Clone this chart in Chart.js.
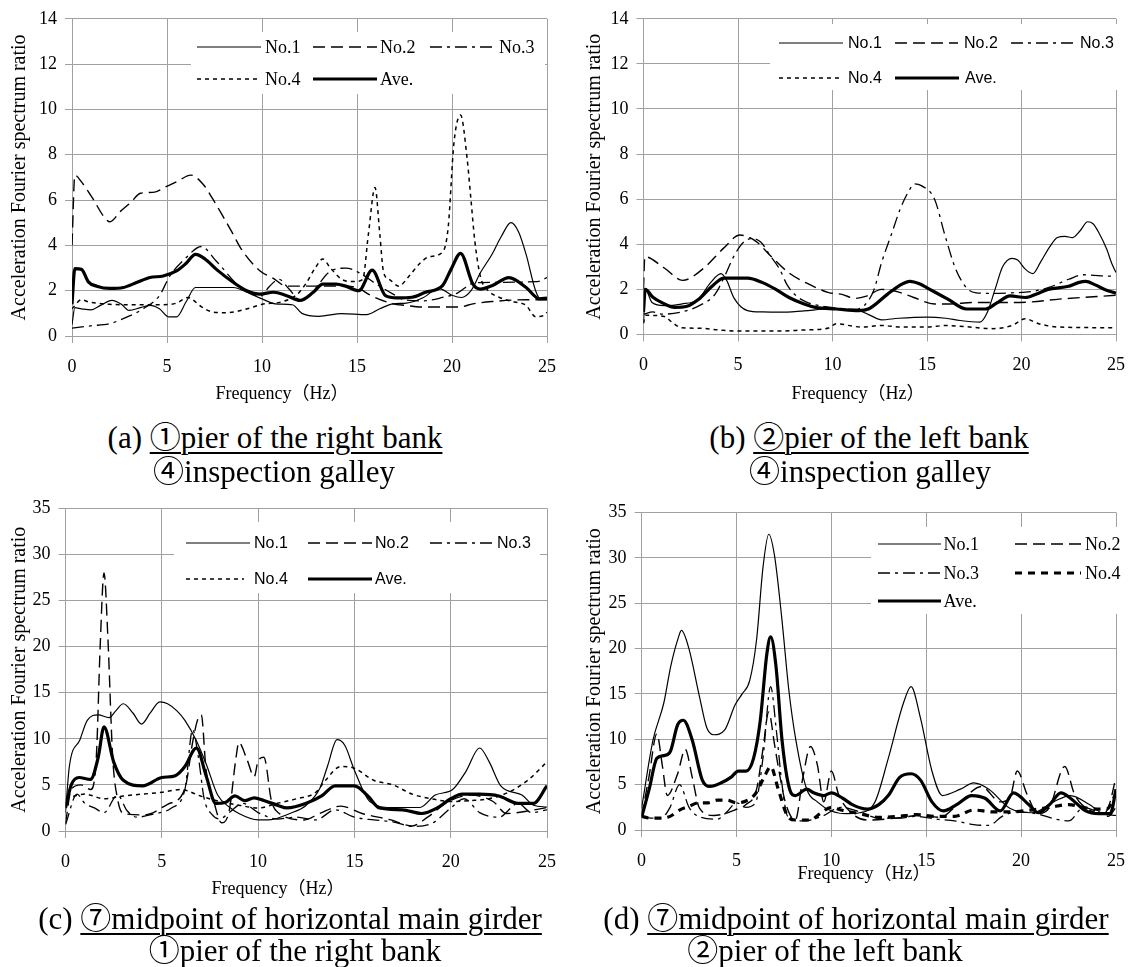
<!DOCTYPE html>
<html>
<head>
<meta charset="utf-8">
<script src="https://cdn.jsdelivr.net/npm/chart.js@4.4.1/dist/chart.umd.min.js"></script>
<style>
  html, body { margin: 0; padding: 0; background: #fff; }
  body { position: relative; width: 1138px; height: 967px; overflow: hidden; }
  .panel { position: absolute; }
  .xt { position: absolute; font-family: 'Liberation Serif', 'Noto Sans CJK JP', serif; font-size: 18px;
        line-height: 20px; white-space: nowrap; transform: translateX(-50%); color: #000; }
  .cap { position: absolute; font-family: 'Liberation Serif', 'Noto Sans CJK JP', serif; font-size: 31px;
         line-height: 33px; white-space: nowrap; transform: translateX(-50%); color: #000; }
  .cap u { text-decoration-thickness: 1.5px; text-underline-offset: 4px; }
</style>
</head>
<body>
<div class="panel" style="left:0;top:0"><canvas id="cA" width="569" height="410"></canvas></div>
<div class="panel" style="left:575px;top:0"><canvas id="cB" width="563" height="410"></canvas></div>
<div class="panel" style="left:0;top:480px"><canvas id="cC" width="569" height="425"></canvas></div>
<div class="panel" style="left:575px;top:480px"><canvas id="cD" width="563" height="425"></canvas></div>

<div class="xt" style="left:282px;top:383px">Frequency（Hz）</div>
<div class="xt" style="left:858px;top:383px">Frequency（Hz）</div>
<div class="xt" style="left:278px;top:878px">Frequency（Hz）</div>
<div class="xt" style="left:864px;top:863px">Frequency（Hz）</div>

<div class="cap" style="left:275px;top:421px">(a) <u>①pier of the right bank</u></div>
<div class="cap" style="left:274px;top:455px">④inspection galley</div>
<div class="cap" style="left:869px;top:421px">(b) <u>②pier of the left bank</u></div>
<div class="cap" style="left:870px;top:455px">④inspection galley</div>
<div class="cap" style="left:290px;top:902px">(c) <u>⑦midpoint of horizontal main girder</u></div>
<div class="cap" style="left:295px;top:934px">①pier of the right bank</div>
<div class="cap" style="left:856px;top:902px">(d) <u>⑦midpoint of horizontal main girder</u></div>
<div class="cap" style="left:825px;top:934px">②pier of the left bank</div>

<script>
// Series labels and axis ticks
const seriesLabels = ['No.1', 'No.2', 'No.3', 'No.4', 'Ave.'];
const freqTicks = [0, 5, 10, 15, 20, 25];

// (a) pier of the right bank / inspection galley : [frequency Hz, ratio]
const aNo1 = [[0,0.5],[0.15,1.25],[0.5,1.2],[1.0,1.15],[1.5,1.35],[2.1,1.57],[2.6,1.4],[3.0,1.13],[3.6,1.25],[4.1,1.35],[4.6,1.2],[5.1,0.84],[5.5,0.84],[6.0,1.5],[6.5,2.14],[7.5,2.14],[8.5,2.14],[9.2,1.93],[10.0,1.64],[10.7,1.42],[11.6,1.38],[12.1,1.0],[13.0,0.87],[14.2,0.99],[15.5,0.94],[16.2,1.2],[16.9,1.42],[17.6,1.45],[18.5,1.7],[19.3,2.1],[20.0,1.8],[20.5,1.7],[21.0,2.0],[21.5,2.8],[22.1,3.6],[22.6,4.4],[23.1,5.0],[23.5,4.6],[23.9,3.6],[24.4,2.0],[24.7,1.6],[25,1.6]];
const aNo2 = [[0,4.0],[0.15,7.1],[0.5,6.8],[1.1,6.06],[1.65,5.3],[2.0,5.04],[2.55,5.5],[3.1,5.9],[3.6,6.3],[4.35,6.35],[4.9,6.57],[5.6,6.85],[6.25,7.1],[6.9,6.7],[7.4,6.06],[8.0,5.2],[8.5,4.46],[8.9,3.85],[9.9,2.87],[10.55,2.57],[11.3,2.2],[12.3,2.2],[13.5,2.2],[14.5,2.2],[15.1,2.1],[15.7,1.8],[16.9,1.42],[17.6,1.35],[18.3,1.28],[20.4,1.28],[21.1,1.42],[22.1,1.52],[23.9,1.6],[25,1.6]];
const aNo3 = [[0,0.35],[1.0,0.45],[2.0,0.55],[2.9,0.84],[3.75,1.2],[4.6,1.78],[5.15,2.65],[6.0,3.45],[6.8,3.95],[7.6,3.3],[8.8,2.2],[9.9,1.75],[10.4,2.2],[10.9,2.5],[11.4,2.1],[12.0,1.6],[12.5,1.75],[13.0,2.3],[13.5,2.8],[14.4,3.0],[15.1,2.8],[16.0,2.3],[16.9,1.85],[17.5,1.6],[18.5,1.55],[19.5,1.7],[20.3,1.9],[21.0,2.3],[21.5,2.36],[24.5,2.4],[25,2.58]];
const aNo4 = [[0,1.2],[0.5,1.6],[0.9,1.5],[2.0,1.4],[3.0,1.38],[4.6,1.38],[5.5,1.45],[6.1,1.7],[6.8,1.3],[7.4,1.06],[8.1,1.03],[9.35,1.23],[10.0,1.4],[11.0,1.5],[11.8,1.8],[12.3,2.3],[12.8,3.0],[13.2,3.4],[13.6,3.0],[14.2,2.5],[14.8,2.4],[15.3,2.5],[15.6,4.5],[15.95,6.55],[16.2,4.5],[16.4,2.8],[16.7,2.5],[17.2,2.2],[17.7,2.6],[18.3,3.2],[18.8,3.5],[19.5,3.7],[19.8,4.8],[20.1,8.5],[20.45,9.75],[20.8,7.8],[21.0,6.0],[21.2,4.2],[21.5,2.6],[21.8,2.1],[22.5,1.7],[23.3,1.5],[23.9,1.35],[24.4,0.85],[24.8,0.9],[25,1.05]];
const aAve = [[0,1.4],[0.15,2.97],[0.5,2.94],[0.86,2.39],[1.3,2.2],[2.0,2.1],[2.7,2.14],[3.4,2.36],[4.1,2.58],[4.8,2.65],[5.5,2.87],[6.0,3.2],[6.5,3.6],[7.0,3.4],[7.6,2.94],[8.5,2.36],[9.2,2.0],[9.9,1.85],[10.6,1.93],[11.3,1.78],[12.0,1.57],[12.7,1.93],[13.2,2.29],[13.9,2.29],[14.4,2.2],[15.1,2.0],[15.8,2.91],[16.5,1.78],[17.1,1.68],[17.9,1.71],[18.6,1.93],[19.5,2.22],[19.95,2.94],[20.45,3.65],[21.1,2.29],[21.5,2.07],[22.1,2.22],[23.0,2.58],[23.9,2.14],[24.6,1.64],[25,1.67]];

// (b) pier of the left bank / inspection galley
const bNo1 = [[0,0.5],[0.1,2.0],[0.45,1.42],[1.1,1.28],[2.0,1.35],[2.9,1.57],[3.55,2.3],[4.1,2.7],[4.4,2.4],[4.8,1.6],[5.5,1.06],[6.3,1.0],[7.2,0.99],[8.5,1.05],[9.8,1.13],[10.5,1.1],[11.4,1.06],[12.0,0.85],[12.6,0.65],[13.5,0.72],[15.0,0.77],[16.0,0.72],[16.75,0.62],[17.8,0.55],[18.2,1.0],[18.6,2.0],[19.0,3.0],[19.5,3.38],[19.8,3.3],[20.2,2.9],[20.6,2.7],[21.0,3.2],[21.5,3.9],[21.9,4.3],[22.3,4.35],[22.7,4.3],[23.1,4.6],[23.5,5.0],[23.8,4.9],[24.1,4.5],[24.5,3.8],[24.8,3.1],[25,2.75]];
const bNo2 = [[0,2.0],[0.07,3.45],[1.1,2.95],[2.07,2.4],[3.2,2.95],[4.24,3.83],[5.1,4.41],[5.97,4.12],[6.66,3.54],[7.7,2.73],[8.75,2.23],[9.8,1.86],[10.5,1.78],[11.2,1.6],[11.8,1.7],[12.6,2.0],[13.3,1.93],[14.3,1.64],[15.4,1.35],[16.2,1.35],[17.4,1.42],[19.9,1.42],[22.0,1.57],[25,1.74]];
const bNo3 = [[0,0.9],[0.5,1.0],[1.0,0.9],[2.0,1.0],[3.0,1.3],[3.8,1.8],[4.3,2.6],[4.8,3.5],[5.3,4.1],[5.7,4.25],[6.2,4.1],[6.7,3.5],[7.2,2.9],[7.6,2.2],[8.1,1.7],[8.6,1.45],[9.5,1.25],[10.5,1.15],[11.2,1.12],[11.7,1.3],[12.2,2.0],[12.6,3.2],[13.1,4.4],[13.6,5.6],[14.0,6.3],[14.35,6.68],[14.7,6.6],[15.4,6.0],[15.95,4.4],[16.5,2.94],[17.1,2.06],[17.6,1.85],[18.5,1.82],[19.5,1.85],[20.5,1.9],[21.5,2.1],[22.5,2.45],[23.3,2.65],[24.2,2.6],[25,2.58]];
const bNo4 = [[0,0.5],[0.1,0.85],[1.1,0.8],[1.5,0.55],[2.0,0.3],[3.0,0.28],[4.0,0.2],[5.0,0.15],[7.0,0.15],[8.5,0.2],[9.8,0.29],[10.2,0.48],[11.0,0.38],[11.5,0.33],[12.6,0.4],[13.6,0.33],[15.0,0.33],[16.0,0.4],[17.0,0.35],[18.5,0.26],[19.5,0.4],[20.2,0.7],[20.9,0.48],[22.0,0.33],[25,0.3]];
const bAve = [[0,1.0],[0.09,2.0],[0.5,1.65],[1.0,1.4],[1.65,1.2],[2.3,1.25],[2.9,1.55],[3.7,2.2],[4.25,2.5],[5.5,2.5],[6.3,2.3],[7.0,2.0],[7.7,1.64],[8.5,1.35],[9.1,1.2],[10.2,1.13],[11.4,1.06],[11.9,1.13],[12.9,1.78],[13.5,2.15],[14.1,2.36],[14.6,2.25],[15.0,2.07],[16.1,1.57],[17.1,1.13],[18.1,1.13],[18.7,1.4],[19.4,1.71],[20.2,1.64],[20.8,1.8],[21.4,2.0],[22.5,2.14],[23.0,2.3],[23.4,2.36],[23.9,2.2],[24.4,2.0],[25,1.83]];

// (c) midpoint of horizontal main girder / pier of the right bank
const cNo1 = [[0,2.0],[0.2,7.0],[0.75,9.9],[1.13,12.0],[1.7,12.6],[2.26,12.3],[2.6,13.0],[3.0,13.8],[3.5,12.8],[3.95,11.6],[4.4,12.8],[4.9,14.0],[5.3,13.8],[5.8,13.0],[6.2,12.0],[6.77,9.9],[7.3,7.3],[7.9,3.9],[8.5,2.6],[9.0,1.9],[10.0,1.2],[10.5,1.2],[11.65,1.9],[12.5,2.8],[13.2,4.6],[13.6,7.0],[14.1,9.9],[14.5,9.3],[15.0,6.6],[15.8,3.2],[16.9,2.55],[18.4,2.55],[19.2,3.9],[20.1,4.5],[20.8,6.5],[21.5,9.0],[22.0,7.5],[22.6,4.9],[23.7,3.9],[24.3,2.8],[25,2.6]];
const cNo2 = [[0,0.8],[0.3,4.5],[0.8,5.0],[1.3,4.5],[1.6,8.0],[1.8,20.0],[2.0,28.0],[2.2,21.0],[2.45,8.0],[2.7,3.5],[3.0,1.9],[4.1,1.75],[5.3,2.9],[6.2,4.6],[6.6,9.6],[6.85,12.0],[7.05,12.6],[7.3,6.6],[7.7,3.2],[8.1,0.9],[8.5,2.2],[8.85,7.9],[9.0,9.6],[9.4,7.9],[9.8,5.9],[10.0,7.6],[10.3,8.0],[10.7,3.2],[11.1,1.9],[12.4,1.2],[13.2,1.9],[14.3,2.7],[15.4,1.9],[16.9,1.2],[18.0,0.55],[18.8,1.5],[19.9,3.2],[21.05,3.9],[22.2,3.2],[22.9,1.9],[24.1,2.2],[25,2.55]];
const cNo3 = [[0,0.7],[0.6,4.0],[1.0,3.0],[1.5,2.5],[2.0,2.0],[2.7,3.9],[3.2,2.2],[3.7,1.5],[4.5,1.8],[5.5,2.5],[6.2,4.5],[6.6,11.0],[6.9,8.0],[7.2,3.5],[7.6,1.8],[8.0,1.3],[8.5,2.0],[9.2,3.0],[10.0,2.0],[11.0,1.3],[12.0,1.5],[13.0,1.2],[14.0,2.3],[15.0,1.5],[16.0,1.2],[17.0,1.0],[18.0,0.5],[19.0,0.8],[20.0,2.5],[20.7,3.5],[21.5,2.0],[22.5,1.5],[23.5,3.0],[24.2,2.0],[25,2.3]];
const cNo4 = [[0,3.5],[1.0,4.0],[2.0,3.5],[3.0,3.8],[4.0,4.0],[5.0,4.2],[6.0,4.5],[7.0,3.8],[8.0,3.2],[9.0,2.8],[10.0,2.5],[11.0,3.0],[12.0,3.5],[13.0,4.2],[13.5,5.5],[14.3,7.0],[15.0,6.8],[16.0,5.5],[17.0,5.0],[18.0,4.0],[19.0,3.5],[20.0,3.2],[21.0,3.3],[22.0,3.5],[23.0,4.2],[24.0,5.5],[25,7.5]];
const cAve = [[0,2.5],[0.3,5.0],[0.7,5.8],[1.3,5.6],[1.7,8.0],[2.0,11.3],[2.5,7.5],[3.0,5.5],[4.0,4.9],[5.0,5.8],[5.7,6.0],[6.2,7.0],[6.8,9.0],[7.3,6.0],[7.8,3.0],[8.3,3.1],[8.8,3.8],[9.3,3.3],[9.8,3.6],[10.3,3.3],[11.0,2.8],[11.5,2.5],[12.5,3.0],[13.3,3.8],[14.0,4.9],[15.0,4.9],[15.7,3.8],[16.3,2.5],[17.5,2.3],[18.5,1.9],[19.3,2.5],[20.0,3.5],[20.6,4.0],[21.5,4.0],[22.5,3.8],[23.5,3.0],[24.3,3.0],[25,4.9]];

// (d) midpoint of horizontal main girder / pier of the left bank
const dNo1 = [[0,2.4],[0.6,9.9],[1.17,14.0],[1.54,18.1],[1.92,21.1],[2.1,22.0],[2.48,20.1],[3.05,14.7],[3.43,11.3],[3.8,10.5],[4.37,11.0],[4.93,13.8],[5.3,15.0],[5.7,16.5],[6.06,21.0],[6.4,29.0],[6.7,32.6],[7.0,30.3],[7.38,23.5],[7.76,15.4],[8.13,9.9],[8.7,4.5],[9.26,3.1],[10.0,2.1],[10.8,1.8],[11.5,1.9],[12.3,3.1],[13.0,7.9],[13.8,14.0],[14.2,15.8],[14.7,12.3],[15.3,6.5],[15.85,3.8],[16.8,4.5],[17.5,5.2],[18.3,4.5],[19.4,2.4],[20.6,1.9],[21.7,3.1],[22.6,3.8],[23.6,2.8],[24.3,1.8],[25,1.6]];
const dNo2 = [[0,1.5],[0.4,6.0],[0.8,10.6],[1.1,7.0],[1.35,3.8],[1.9,6.2],[2.3,8.9],[2.67,5.8],[3.05,2.4],[3.8,1.6],[4.4,1.8],[4.9,2.2],[5.5,2.8],[6.06,4.5],[6.4,9.0],[6.7,13.0],[7.0,9.5],[7.2,7.0],[7.57,3.1],[8.1,1.1],[8.5,5.8],[8.9,9.2],[9.26,7.2],[9.6,3.1],[10.0,6.5],[10.4,3.8],[11.1,1.8],[11.9,1.1],[13.8,1.4],[14.5,1.6],[15.7,1.4],[16.8,3.1],[17.9,4.8],[18.9,3.1],[19.4,3.5],[19.8,6.5],[20.3,4.0],[20.9,1.8],[21.5,2.5],[22.3,7.0],[22.8,4.0],[23.2,2.8],[24.3,1.8],[24.6,2.5],[25,5.8]];
const dNo3 = [[0,1.5],[0.5,1.3],[1.0,1.3],[1.5,2.5],[2.0,5.0],[2.5,2.5],[3.0,1.5],[4.0,1.2],[4.5,2.0],[5.0,3.0],[5.5,2.5],[6.0,3.0],[6.4,8.0],[6.8,15.8],[7.1,11.0],[7.4,5.0],[7.7,1.5],[8.5,1.0],[9.5,1.5],[10.5,2.5],[11.5,2.0],[12.5,1.3],[13.5,1.3],[14.5,1.5],[15.5,1.2],[16.5,1.0],[17.5,0.6],[18.3,0.5],[19.0,1.5],[19.8,2.0],[20.8,1.8],[21.8,1.2],[22.5,1.0],[23.3,2.5],[24.0,2.0],[24.6,1.5],[25,2.5]];
const dNo4 = [[0,1.5],[0.5,1.3],[1.0,1.3],[1.5,1.5],[2.0,2.2],[2.5,2.6],[3.0,3.0],[3.5,3.0],[4.0,3.3],[4.5,3.3],[5.0,3.0],[5.5,3.2],[6.0,4.0],[6.5,6.0],[6.8,7.0],[7.2,4.5],[7.7,1.5],[8.1,1.1],[8.9,1.1],[9.4,1.8],[10.0,2.5],[10.5,2.2],[11.5,1.8],[12.5,1.4],[13.5,1.5],[14.5,1.7],[15.5,1.5],[16.5,1.5],[17.5,2.2],[18.5,2.0],[19.5,2.0],[20.5,2.2],[21.5,2.5],[22.5,2.8],[23.5,2.4],[24.5,2.3],[25,4.0]];
const dAve = [[0,1.4],[0.4,4.5],[0.8,7.9],[1.17,8.2],[1.5,8.6],[1.9,11.6],[2.2,12.1],[2.67,9.9],[3.2,5.5],[3.6,4.8],[4.2,5.2],[4.7,5.8],[5.1,6.5],[5.5,6.5],[5.9,7.9],[6.25,12.0],[6.6,19.4],[6.8,21.3],[7.08,18.1],[7.4,9.9],[7.8,4.5],[8.1,3.8],[8.7,4.5],[9.07,4.1],[9.6,3.8],[10.0,4.1],[10.6,3.5],[11.1,2.8],[11.9,2.3],[12.5,2.8],[13.0,3.8],[13.6,5.8],[14.2,6.2],[14.7,5.5],[15.3,3.1],[15.9,2.1],[16.6,2.8],[17.4,3.8],[18.1,3.5],[18.9,2.1],[19.6,4.1],[20.4,2.8],[20.9,1.9],[21.5,2.8],[22.1,4.1],[22.6,3.5],[23.4,2.1],[24.1,1.8],[24.7,1.8],[25,4.5]];

// Line styles per series
const lineStyle = {
  'No.1': { borderWidth: 1.2, borderDash: [] },
  'No.2': { borderWidth: 1.4, borderDash: [12, 6] },
  'No.3': { borderWidth: 1.3, borderDash: [12, 5, 3, 5] },
  'No.4': { borderWidth: 1.5, borderDash: [4, 4] },
  'Ave.': { borderWidth: 3.2, borderDash: [] }
};
const boldNo4 = { borderWidth: 3.2, borderDash: [7, 6] };

const SERIF = "'Liberation Serif', 'Times New Roman', serif";
const SANS = "'Liberation Sans', Arial, sans-serif";
const GRID = '#a0a0a0';

// Legend drawn inside the plot area on a white box, before the curves
const insetLegend = {
  id: 'insetLegend',
  beforeDatasetsDraw(chart, args, opts) {
    const ctx = chart.ctx;
    const b = opts.box;
    ctx.save();
    ctx.fillStyle = '#fff';
    ctx.fillRect(b[0], b[1], b[2] - b[0], b[3] - b[1]);
    chart.data.datasets.forEach((ds, i) => {
      const it = opts.items[i];
      ctx.strokeStyle = '#000';
      ctx.lineWidth = ds.borderWidth;
      ctx.setLineDash(ds.borderDash || []);
      ctx.beginPath();
      ctx.moveTo(it[0], it[2]);
      ctx.lineTo(it[1], it[2]);
      ctx.stroke();
      ctx.setLineDash([]);
      ctx.fillStyle = '#000';
      ctx.font = opts.font;
      ctx.textAlign = 'left';
      ctx.textBaseline = 'middle';
      ctx.fillText(ds.label, it[3], it[2] + 1);
    });
    ctx.restore();
  }
};

function buildChart(id, series, cfg) {
  const datasets = series.map((pts, i) => {
    const label = seriesLabels[i];
    const st = (cfg.boldNo4 && label === 'No.4') ? boldNo4 : lineStyle[label];
    return {
      label,
      data: pts.map(([x, y]) => ({ x, y })),
      borderColor: '#000',
      borderWidth: st.borderWidth,
      borderDash: st.borderDash,
      pointRadius: 0,
      fill: false,
      cubicInterpolationMode: 'monotone',
      borderCapStyle: 'butt',
      borderJoinStyle: 'round'
    };
  });
  const W = cfg.w, H = cfg.h;
  return new Chart(document.getElementById(id), {
    type: 'line',
    data: { datasets },
    plugins: [insetLegend],
    options: {
      responsive: false,
      animation: false,
      devicePixelRatio: 1,
      layout: { autoPadding: false, padding: { left: 0, top: cfg.top, right: W - cfg.right, bottom: 0 } },
      plugins: {
        legend: { display: false },
        tooltip: { enabled: false },
        insetLegend: { box: cfg.box, items: cfg.items, font: cfg.legendFont }
      },
      scales: {
        x: {
          type: 'linear', min: 0, max: 25,
          afterBuildTicks: s => { s.ticks = freqTicks.map(v => ({ value: v })); },
          afterFit: s => { s.height = H - cfg.bottom; },
          ticks: { color: '#000', font: { family: SERIF, size: 18 }, padding: 13, maxRotation: 0 },
          grid: { color: GRID, lineWidth: 1, tickLength: 7, drawTicks: true },
          border: { color: GRID, width: 1 }
        },
        y: {
          type: 'linear', min: 0, max: cfg.ymax,
          afterFit: s => { s.width = cfg.left; },
          ticks: { stepSize: cfg.step, color: '#000', font: { family: SERIF, size: 18 }, padding: 8 },
          grid: { color: GRID, lineWidth: 1, tickLength: 7, drawTicks: true },
          border: { color: GRID, width: 1 },
          title: {
            display: true, text: 'Acceleration Fourier spectrum ratio', color: '#000',
            font: { family: SERIF, size: 20 }, padding: { top: 8, bottom: 0 }
          }
        }
      }
    }
  });
}

const legendSerif = '18px ' + SERIF;
const legendSans = '16px ' + SANS;

buildChart('cA', [aNo1, aNo2, aNo3, aNo4, aAve], {
  w: 569, h: 410, left: 72, right: 548, top: 14, bottom: 336, ymax: 14, step: 2,
  legendFont: legendSerif,
  box: [191, 32, 545, 94],
  items: [[197, 261, 47, 265], [313, 377, 47, 380], [430, 494, 47, 499], [197, 259, 79, 265], [313, 377, 79, 380]]
});
buildChart('cB', [bNo1, bNo2, bNo3, bNo4, bAve], {
  w: 563, h: 410, left: 68.5, right: 549, top: 15, bottom: 334.5, ymax: 14, step: 2,
  legendFont: legendSans,
  box: [195, 24, 545, 90],
  items: [[204, 268, 43, 273], [320, 383, 43, 389], [436, 500, 43, 505], [204, 265, 78, 273], [320, 384, 78, 390]]
});
buildChart('cC', [cNo1, cNo2, cNo3, cNo4, cAve], {
  w: 569, h: 425, left: 65.5, right: 547, top: 28.3, bottom: 351, ymax: 35, step: 5,
  legendFont: legendSans,
  box: [174, 42, 540, 113],
  items: [[186, 250, 63, 254], [308, 372, 63, 375], [430, 494, 63, 497], [186, 244, 99, 254], [308, 372, 99, 375]]
});
buildChart('cD', [dNo1, dNo2, dNo3, dNo4, dAve], {
  w: 563, h: 425, left: 66.6, right: 548.6, top: 32.5, bottom: 350, ymax: 35, step: 5,
  legendFont: legendSerif, boldNo4: true,
  box: [296, 47, 545, 134],
  items: [[303, 366, 64, 368.5], [440, 506, 64, 510], [303, 366, 93, 368.5], [440, 506, 93, 510], [303, 366, 121, 368.5]]
});
</script>
</body>
</html>
